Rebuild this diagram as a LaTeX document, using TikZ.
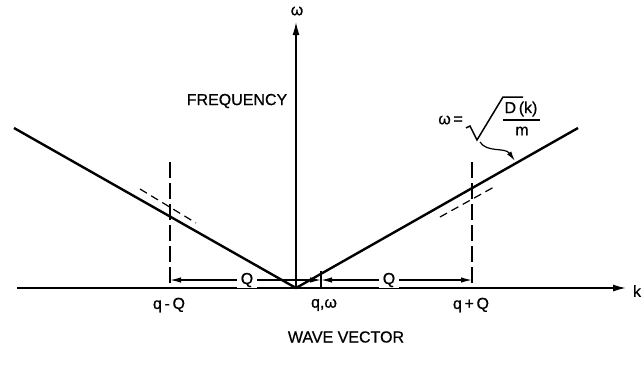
\documentclass[tikz,border=0pt]{standalone}
\usepackage{fontspec}
\setmainfont{Liberation Sans}[FakeBold=0.7]
\usetikzlibrary{arrows.meta}
\begin{document}
\begin{tikzpicture}[x=1pt,y=-1pt,
  font=\fontsize{16}{19}\selectfont,
  axis/.style={line width=1.5pt,-{Latex[length=13pt,width=7pt]}},
  branch/.style={line width=2.4pt},
  guide/.style={line width=1.2pt,dash pattern=on 16pt off 5pt},
  tangent/.style={line width=1.2pt,dash pattern=on 8pt off 5pt},
  dim/.style={line width=1.3pt,-{Latex[length=11pt,width=5.5pt]}},
  lbl/.style={inner sep=1pt}]
\useasboundingbox (0,0) rectangle (643,373);
% axes
\coordinate (O) at (296,288);
\coordinate (kL) at (17,288);
\coordinate (kR) at (626,288);
\coordinate (wT) at (296,22);
\draw[axis] (kL) -- (kR);
\draw[axis] (O) -- (wT);
\node[lbl] (klab) at (637,291) {k};
\node[lbl] (wlab) at (297,11) {ω};
\node[lbl] (freq) at (237,101) {FREQUENCY};
\node[lbl] (wave) at (346,337) {WAVE VECTOR};
% branches
\coordinate (Lend) at (14,128);
\coordinate (Rend) at (578,128);
\draw[branch] (Lend) -- (O) -- (Rend);
% vertical guides
\coordinate (gLt) at (170,162);
\coordinate (gLb) at (170,288);
\coordinate (gRt) at (472,162);
\coordinate (gRb) at (472,288);
\draw[guide] (gLt) -- (gLb);
\draw[guide] (gRt) -- (gRb);
% tangents
\coordinate (tL1) at (140,189);
\coordinate (tL2) at (196,223);
\coordinate (tR1) at (440,217);
\coordinate (tR2) at (494,187);
\draw[tangent] (tL1) -- (tL2);
\draw[tangent] (tR1) -- (tR2);
% q tick
\coordinate (q) at (321,288);
\coordinate (qt) at (321,271);
\draw[line width=1.5pt] (q) -- (qt);
% Q dimension arrows
\coordinate (dL) at (170,280);
\coordinate (dq) at (321,280);
\coordinate (dR) at (472,280);
\node[lbl,fill=white,inner xsep=4pt] (QL) at (247,280) {Q};
\node[lbl,fill=white,inner xsep=4pt] (QR) at (389,280) {Q};
\draw[dim] (QL) -- (dL);
\draw[dim] (QL) -- (dq);
\draw[dim] (QR) -- (dq);
\draw[dim] (QR) -- (dR);
% tick labels
\node[lbl] (qmQ) at (169,305) {q\,-\,Q};
\node[lbl] (qw) at (324,305) {q,ω};
\node[lbl] (qpQ) at (471,305) {q\,+\,Q};
% formula
\node[lbl,anchor=east] (weq) at (464,120) {ω\,=};
\node[lbl] (Dk) at (521,109) {D\,(k)};
\node[lbl] (mm) at (522,131) {m};
\coordinate (fb1) at (503,120);
\coordinate (fb2) at (540,120);
\draw[line width=1.2pt] (fb1) -- (fb2);
\coordinate (r0) at (466,128);
\coordinate (r1) at (470,126);
\coordinate (r2) at (477,140);
\coordinate (r3) at (503,97);
\coordinate (r4) at (523,97);
\draw[line width=1.5pt,line join=miter] (r0) -- (r1) -- (r2) -- (r3) -- (r4);
\coordinate (fs) at (480,142);
\coordinate (fe) at (515,161);
\draw[line width=1.2pt,-{Latex[length=10pt,width=5pt]}] (fs) .. controls (487,153) and (505,147) .. (fe);
\end{tikzpicture}
\end{document}
